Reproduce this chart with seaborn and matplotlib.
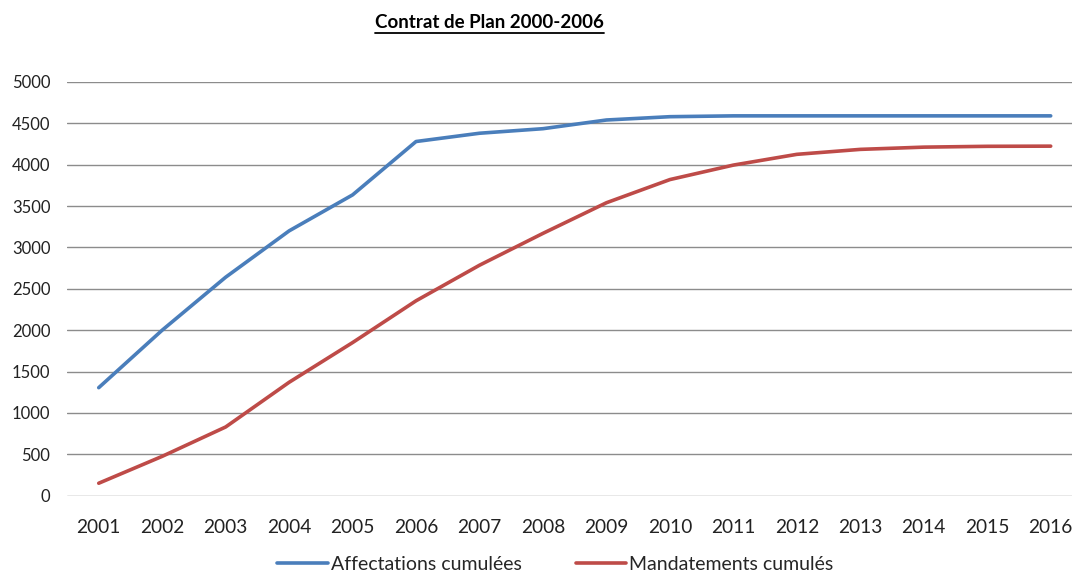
import pandas as pd
import matplotlib.pyplot as plt
import seaborn as sns
from matplotlib.lines import Line2D

# donnees
annees = [str(a) for a in range(2001, 2017)]
affectations = [1305, 2000, 2640, 3200, 3635, 4280, 4380, 4435, 4540, 4580,
                4590, 4590, 4590, 4590, 4590, 4590]
mandatements = [150, 475, 830, 1370, 1850, 2355, 2785, 3170, 3540, 3820,
                3995, 4125, 4185, 4212, 4222, 4224]
series = ['Affectations cumulées', 'Mandatements cumulés']

df = pd.DataFrame({'Année': annees, series[0]: affectations, series[1]: mandatements})
df_long = df.melt(id_vars=['Année'], value_vars=series, var_name='Série', value_name='Montant')

sns.set_style('white')
plt.rcParams['font.family'] = ['Lato', 'DejaVu Sans']

fig = plt.figure(figsize=(10.72, 5.73), dpi=100)
ax = fig.add_axes([0.0625, 0.135, 0.9425, 0.722])

sns.lineplot(data=df_long, x='Année', y='Montant', hue='Série',
             palette=['#4A7EBB', '#BE4B48'], linewidth=2.6, ax=ax, legend=False)

ax.set_ylim(0, 5000)
ax.set_yticks(range(0, 5001, 500))
ax.set_xlim(-0.5, 15.42)
ax.grid(axis='y', color='#8C8C8C', linewidth=1)
ax.set_axisbelow(True)
for s in ax.spines.values():
    s.set_visible(False)
ax.tick_params(axis='y', length=0, pad=12, labelsize=12, labelcolor='#222222')
ax.tick_params(axis='x', length=0, pad=17, labelsize=13.8, labelcolor='#222222')
ax.set_xlabel('')
ax.set_ylabel('')

handles = [Line2D([], [], color='#4A7EBB', linewidth=2.6),
           Line2D([], [], color='#BE4B48', linewidth=2.6)]
fig.legend(handles, series, loc='lower center', bbox_to_anchor=(0.518, -0.03), ncol=2,
           frameon=False, fontsize=14, handlelength=2.6, handletextpad=0.15,
           columnspacing=2.8)

titre = fig.text(0.457, 1 - 23 / 573, 'Contrat de Plan 2000-2006', ha='center', va='center',
                 fontsize=13.5, fontweight='bold', color='black')
fig.canvas.draw()
bb = titre.get_window_extent().transformed(fig.transFigure.inverted())
fig.add_artist(Line2D([bb.x0, bb.x1], [bb.y0 - 0.003, bb.y0 - 0.003], color='black',
                      linewidth=1.3, transform=fig.transFigure))

fig.savefig('out.png', dpi=100)
